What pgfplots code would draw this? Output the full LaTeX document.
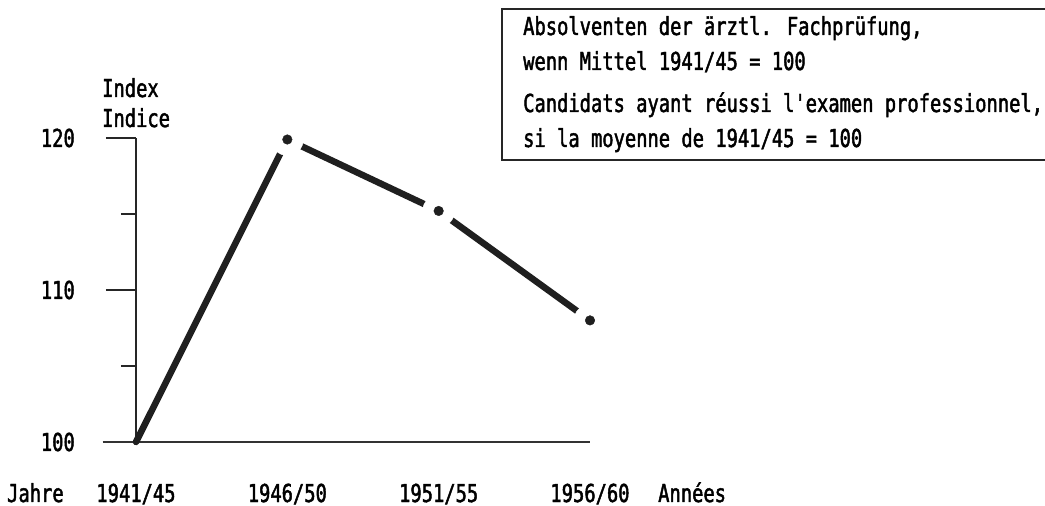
\documentclass[border=0pt]{standalone}
\usepackage{fontspec}
\usepackage{pgfplots}
\pgfplotsset{compat=1.18}
\setmainfont{DejaVu Sans Mono}[FakeStretch=0.76, FakeBold=1.8, Ligatures=TeXOff]
\newcommand\fs{\fontsize{24.7bp}{30bp}\selectfont}
\begin{document}
\begin{tikzpicture}[x=1bp,y=1bp]
\path[use as bounding box] (0,0) rectangle (1045,506);
\begin{axis}[
  scale only axis, width=454bp, height=304bp,
  at={(136bp,64bp)}, anchor=south west,
  xmin=0, xmax=3, ymin=100, ymax=120,
  clip=false,
  axis x line*=bottom, axis y line*=left,
  axis line style={line width=1.6bp, black!85},
  xtick={0,1,2,3},
  xticklabels={1941/45,1946/50,1951/55,1956/60},
  xtick style={draw=none},
  minor xtick={0,1,2,3},
  ytick={100,110,120}, minor ytick={105,115},
  tick align=outside,
  major tick length=30bp, minor tick length=15bp,
  every tick/.style={line width=1.6bp, black!85},
  /pgf/number format/assume math mode=true,
  yticklabel style={font=\fs, anchor=east, inner sep=0pt, xshift=-31bp},
  xticklabel style={font=\fs, anchor=base, inner sep=0pt, yshift=-30bp},
]
\draw[line width=2.4bp, black!80] (axis cs:-0.22,100) -- (axis cs:3,100);
\addplot[line width=6.5bp, black!88, line cap=round] coordinates {(0,100) (1,119.9) (2,115.2) (3,108)};
\addplot[only marks, white, mark=*, mark size=16bp, mark options={fill=white, draw=white}] coordinates {(1,119.9) (2,115.2) (3,108)};
\addplot[only marks, black!88, mark=*, mark size=4.8bp, mark options={fill=black!88, draw=black!88}] coordinates {(1,119.9) (2,115.2) (3,108)};
\end{axis}
\node[anchor=base west, inner sep=0pt, font=\fs] at (102,506-97) {Index};
\node[anchor=base west, inner sep=0pt, font=\fs] at (102,506-127) {Indice};
\node[anchor=base west, inner sep=0pt, font=\fs] at (7,506-502) {Jahre};
\node[anchor=base west, inner sep=0pt, font=\fs] at (658,506-502) {Années};
\draw[line width=1.8bp, black!85] (1050,506-9) -- (502,506-9) -- (502,506-160) -- (1050,506-160);
\node[anchor=base west, inner sep=0pt, font=\fs] at (523,506-35) {Absolventen der ärztl. Fachprüfung,};
\node[anchor=base west, inner sep=0pt, font=\fs] at (523,506-70) {wenn Mittel 1941/45 = 100};
\node[anchor=base west, inner sep=0pt, font=\fs] at (523,506-112) {Candidats ayant réussi l'examen professionnel,};
\node[anchor=base west, inner sep=0pt, font=\fs] at (523,506-147) {si la moyenne de 1941/45 = 100};
\end{tikzpicture}
\end{document}
